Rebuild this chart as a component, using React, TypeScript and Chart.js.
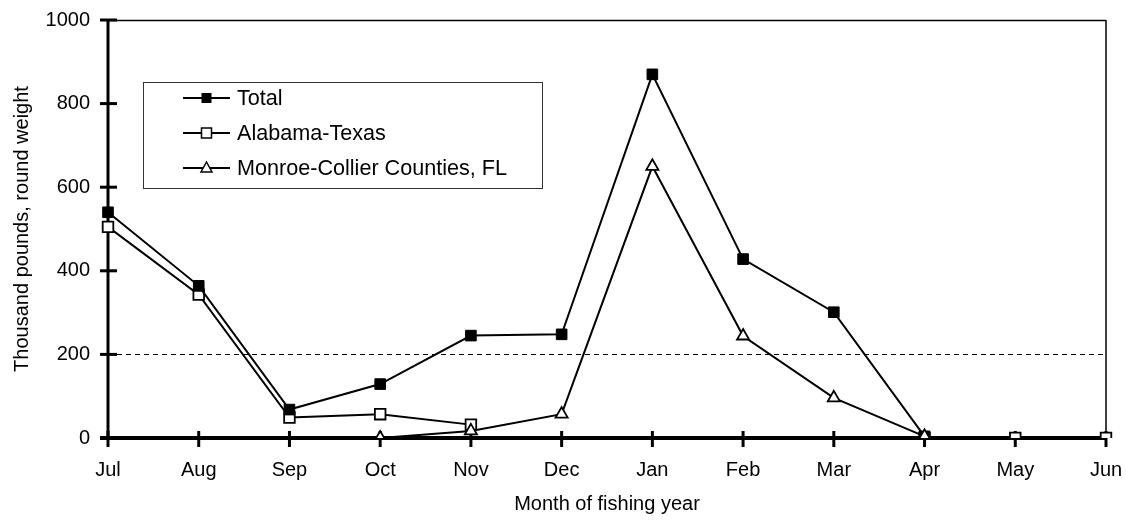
import React, { useEffect, useRef } from "react";
import { Chart, registerables } from "chart.js";

Chart.register(...registerables);

const months = ["Jul", "Aug", "Sep", "Oct", "Nov", "Dec", "Jan", "Feb", "Mar", "Apr", "May", "Jun"];
const totalValues = [540, 364, 68, 129, 245, 248, 870, 428, 301, 4, null, null];
const alabamaTexasValues = [505, 343, 49, 57, 32, null, null, null, null, 0, 0, 0];
const monroeCollierValues = [null, null, null, 0, 17, 57, 650, 244, 96, 4, null, null];
const yTicks = [0, 200, 400, 600, 800, 1000];
const referenceLineValue = 200;
const legendLabels = ["Total", "Alabama-Texas", "Monroe-Collier Counties, FL"];

const FONT = "'Liberation Sans', Arial, Helvetica, sans-serif";

const axesPlugin = {
  id: "customAxes",
  beforeDatasetsDraw(chart: any) {
    const { ctx, chartArea } = chart;
    const { left, right, top, bottom } = chartArea;
    const y = chart.scales.y;
    const x = chart.scales.x;
    ctx.save();
    ctx.strokeStyle = "#000";
    ctx.lineWidth = 1.5;
    ctx.beginPath();
    ctx.moveTo(left, top + 0.5);
    ctx.lineTo(right, top + 0.5);
    ctx.moveTo(right, top);
    ctx.lineTo(right, bottom);
    ctx.stroke();
    ctx.lineWidth = 1;
    ctx.setLineDash([5, 4]);
    const yr = Math.round(y.getPixelForValue(referenceLineValue)) + 0.5;
    ctx.beginPath();
    ctx.moveTo(left, yr);
    ctx.lineTo(right, yr);
    ctx.stroke();
    ctx.setLineDash([]);
    ctx.lineWidth = 3;
    ctx.beginPath();
    ctx.moveTo(left, top);
    ctx.lineTo(left, bottom);
    ctx.stroke();
    yTicks.forEach((v) => {
      const py = y.getPixelForValue(v);
      ctx.beginPath();
      ctx.moveTo(left - 8, py);
      ctx.lineTo(left + 9, py);
      ctx.stroke();
    });
    ctx.lineWidth = 4;
    ctx.beginPath();
    ctx.moveTo(left - 8, bottom);
    ctx.lineTo(right, bottom);
    ctx.stroke();
    ctx.lineWidth = 3;
    months.forEach((_, i) => {
      const px = x.getPixelForValue(i);
      ctx.beginPath();
      ctx.moveTo(px, bottom - 7);
      ctx.lineTo(px, bottom + 9);
      ctx.stroke();
    });
    ctx.restore();
  },
};

const legendPlugin = {
  id: "boxLegend",
  afterDraw(chart: any) {
    const { ctx, chartArea } = chart;
    const bx = chartArea.left + 35;
    const by = chartArea.top + 62;
    const bw = 399;
    const bh = 106;
    ctx.save();
    ctx.fillStyle = "#fff";
    ctx.fillRect(bx, by, bw, bh);
    ctx.strokeStyle = "#333";
    ctx.lineWidth = 1;
    ctx.strokeRect(bx + 0.5, by + 0.5, bw, bh);
    const rows = [by + 16, by + 51, by + 86];
    const styles = ["filled", "open", "triangle"];
    legendLabels.forEach((label, i) => {
      const cy = rows[i];
      const x0 = bx + 40;
      const x1 = bx + 87;
      const cx = (x0 + x1) / 2;
      ctx.strokeStyle = "#000";
      ctx.lineWidth = 2;
      ctx.beginPath();
      ctx.moveTo(x0, cy);
      ctx.lineTo(x1, cy);
      ctx.stroke();
      const s = styles[i];
      if (s === "filled") {
        ctx.fillStyle = "#000";
        ctx.fillRect(cx - 5, cy - 5, 10, 10);
      } else if (s === "open") {
        ctx.fillStyle = "#fff";
        ctx.fillRect(cx - 5, cy - 5, 10, 10);
        ctx.lineWidth = 1.5;
        ctx.strokeRect(cx - 5, cy - 5, 10, 10);
      } else {
        ctx.fillStyle = "#fff";
        ctx.lineWidth = 1.5;
        ctx.beginPath();
        ctx.moveTo(cx, cy - 6);
        ctx.lineTo(cx + 5.5, cy + 4);
        ctx.lineTo(cx - 5.5, cy + 4);
        ctx.closePath();
        ctx.fill();
        ctx.stroke();
      }
      ctx.fillStyle = "#000";
      ctx.font = `21.6px ${FONT}`;
      ctx.textAlign = "left";
      ctx.textBaseline = "middle";
      ctx.fillText(label, bx + 94, cy + 1);
    });
    ctx.restore();
  },
};

export default function App() {
  const ref = useRef<HTMLCanvasElement | null>(null);
  useEffect(() => {
    if (!ref.current) return;
    const chart = new Chart(ref.current, {
      type: "line",
      data: {
        labels: months,
        datasets: [
          {
            label: legendLabels[0],
            data: totalValues,
            borderColor: "#000",
            backgroundColor: "#000",
            borderWidth: 2,
            pointStyle: "rect",
            pointRadius: 7.5,
            pointBorderWidth: 1,
            pointBackgroundColor: "#000",
            pointBorderColor: "#000",
            order: 1,
          },
          {
            label: legendLabels[1],
            data: alabamaTexasValues,
            borderColor: "#000",
            backgroundColor: "#fff",
            borderWidth: 2,
            pointStyle: "rect",
            pointRadius: 7.5,
            pointBorderWidth: 1.8,
            pointBackgroundColor: "#fff",
            pointBorderColor: "#000",
            order: 2,
          },
          {
            label: legendLabels[2],
            data: monroeCollierValues,
            borderColor: "#000",
            backgroundColor: "#fff",
            borderWidth: 2,
            pointStyle: "triangle",
            pointRadius: 7,
            pointBorderWidth: 1.8,
            pointBackgroundColor: "#fff",
            pointBorderColor: "#000",
            order: 0,
          },
        ],
      },
      options: {
        responsive: false,
        animation: false,
        spanGaps: false,
        layout: { padding: { top: 20, right: 20, bottom: 0, left: 0 } },
        plugins: {
          legend: { display: false },
          tooltip: { enabled: false },
        },
        elements: { line: { tension: 0 } },
        scales: {
          x: {
            type: "category",
            offset: false,
            grid: { display: false, drawTicks: false },
            border: { display: false },
            ticks: {
              color: "#000",
              font: { family: FONT, size: 20 },
              padding: 20,
              maxRotation: 0,
              autoSkip: false,
            },
            title: {
              display: true,
              text: "Month of fishing year",
              color: "#000",
              font: { family: FONT, size: 20 },
              padding: { top: 5, bottom: 5 },
            },
            afterFit: (s: any) => {
              s.height = 83;
              s.paddingLeft = 0;
              s.paddingRight = 0;
            },
          },
          y: {
            min: 0,
            max: 1000,
            grid: { display: false, drawTicks: false },
            border: { display: false },
            ticks: {
              stepSize: 200,
              color: "#000",
              font: { family: FONT, size: 20 },
              padding: 18,
              callback: (v: any) => String(v),
            },
            title: {
              display: true,
              text: "Thousand pounds, round weight",
              color: "#000",
              font: { family: FONT, size: 20 },
              padding: { top: 10, bottom: 0 },
            },
            afterFit: (s: any) => {
              s.width = 108;
              s.paddingTop = 0;
              s.paddingBottom = 0;
            },
          },
        },
      },
      plugins: [axesPlugin, legendPlugin],
    });
    return () => chart.destroy();
  }, []);
  return (
    <div style={{ position: "absolute", left: 0, top: 0, width: 1126, height: 521, background: "#fff" }}>
      <canvas ref={ref} width={1126} height={521} />
    </div>
  );
}
